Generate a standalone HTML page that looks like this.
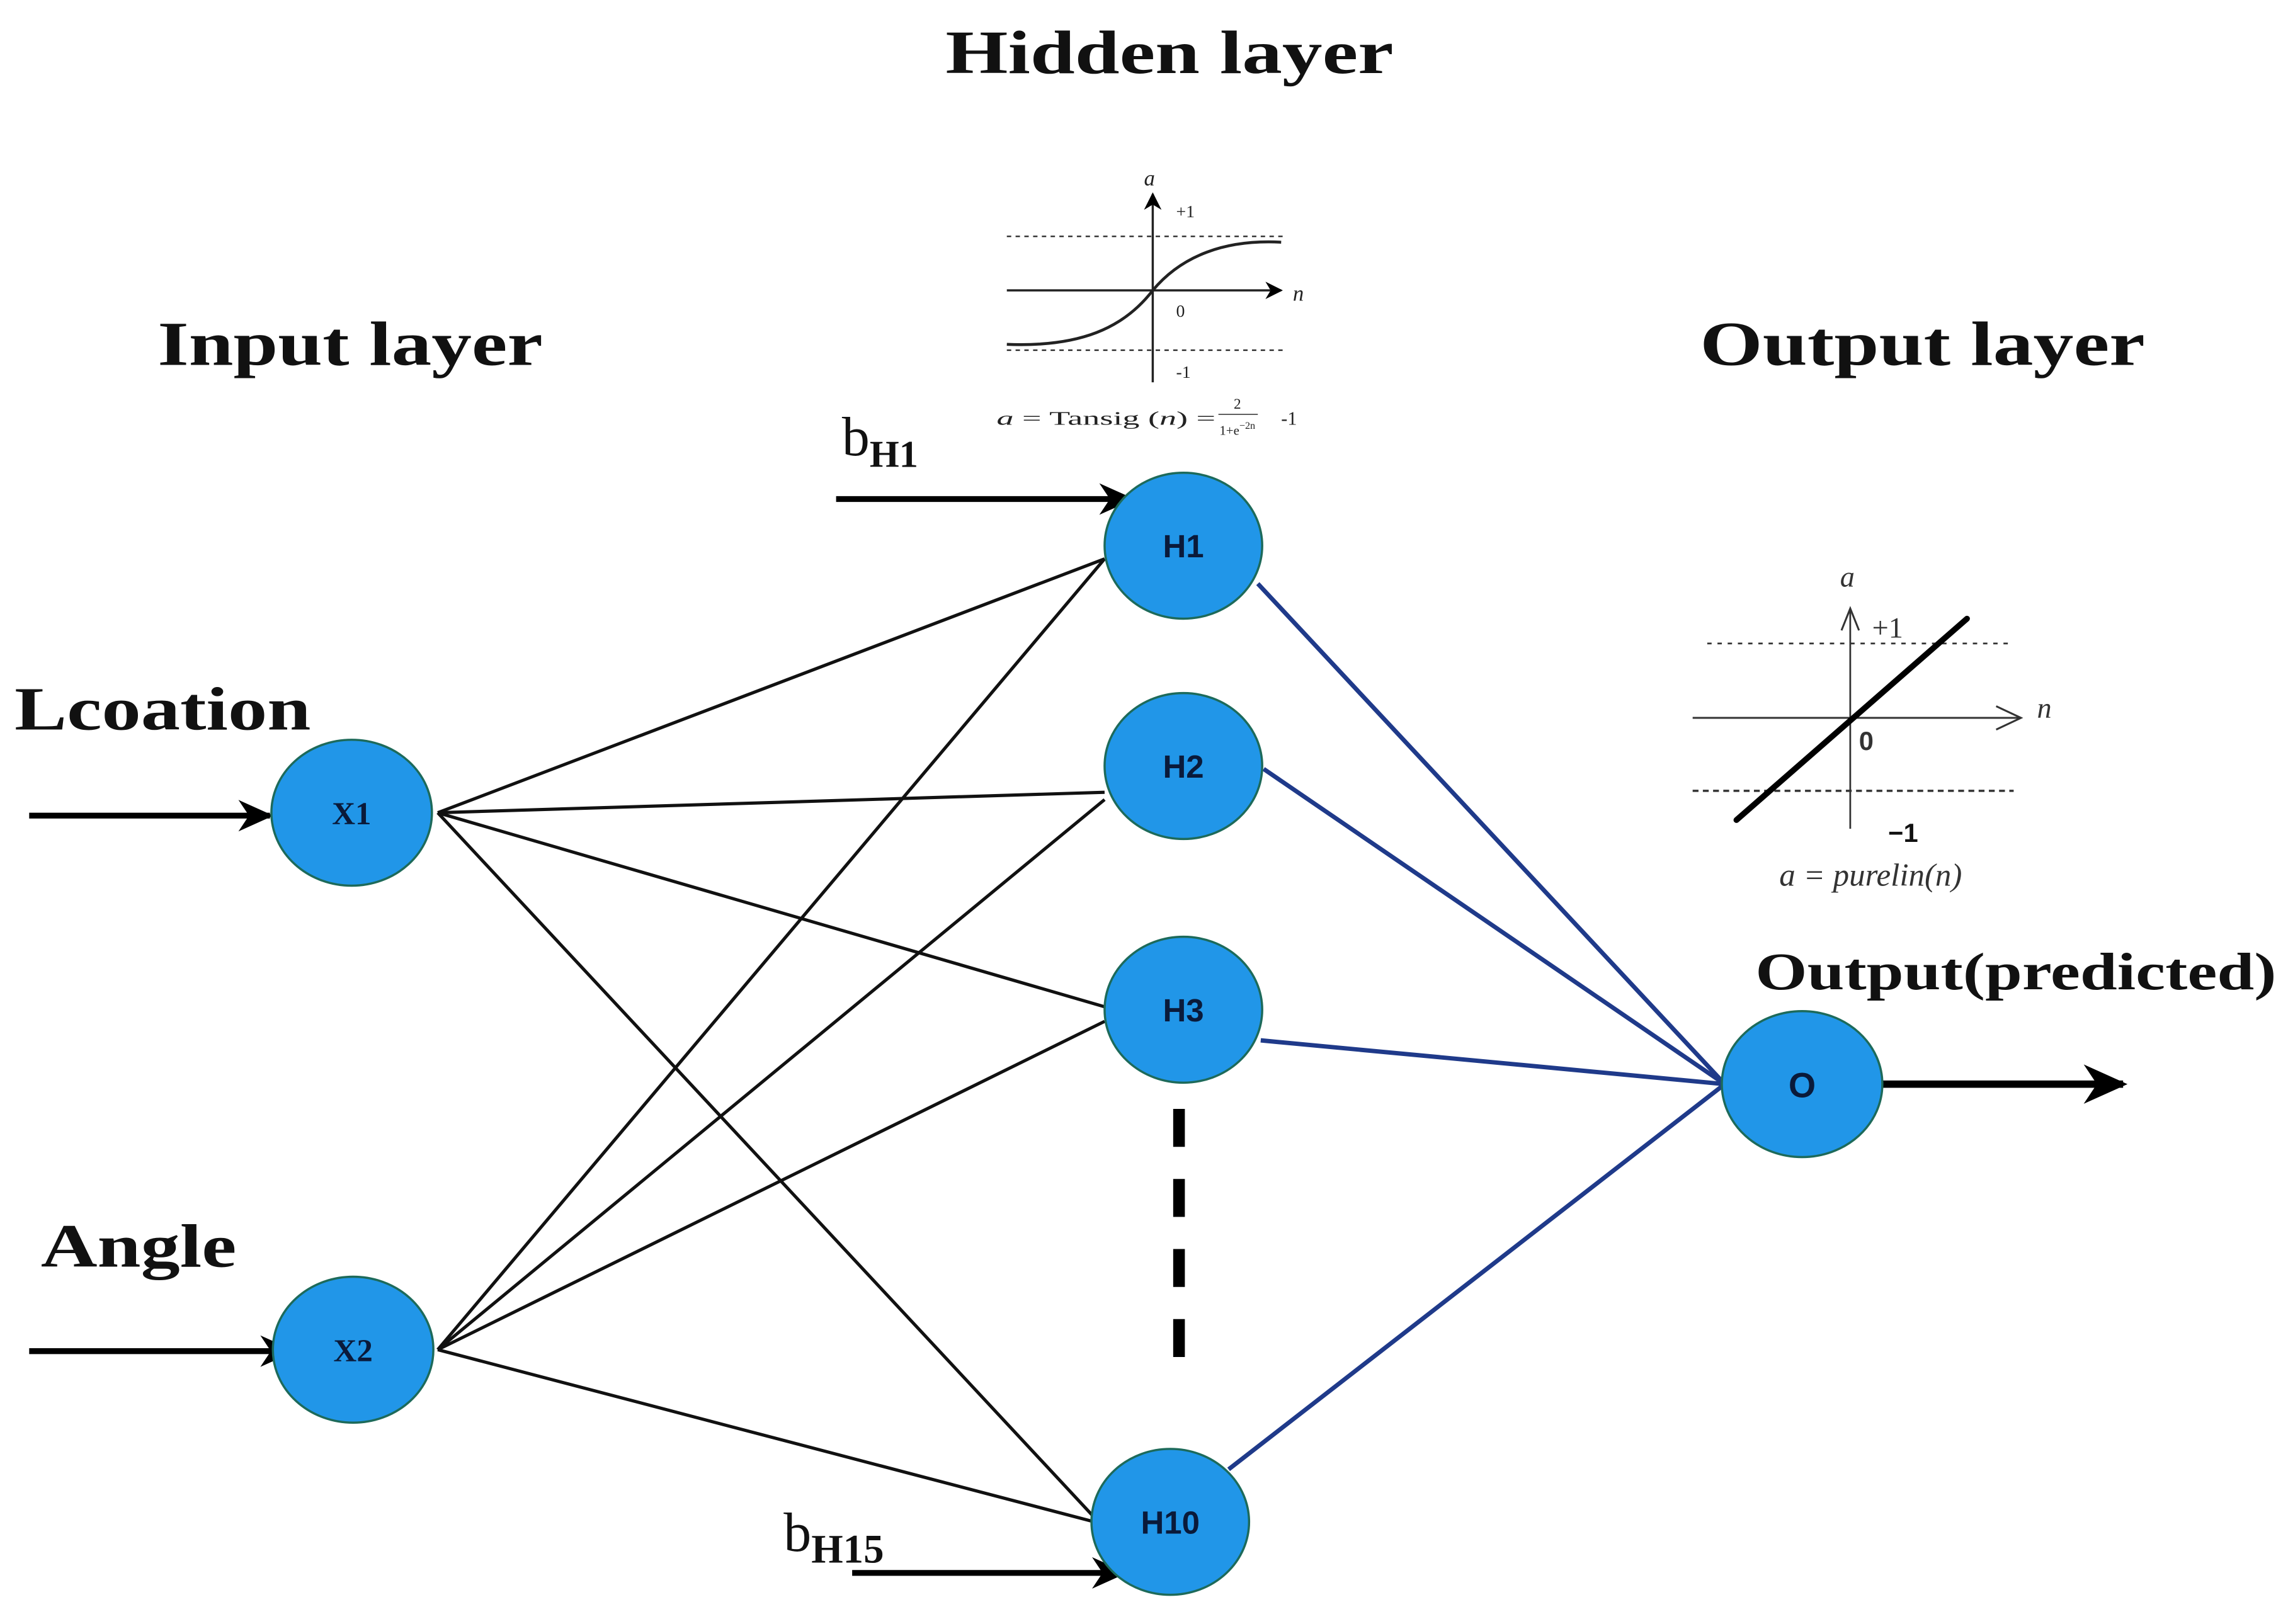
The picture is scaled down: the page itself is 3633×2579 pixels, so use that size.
<!DOCTYPE html>
<html><head><meta charset="utf-8"><style>
html,body{margin:0;padding:0;background:#fff;}
svg{display:block;}
</style></head><body>
<svg width="3633" height="2579" viewBox="0 0 1568 1113" preserveAspectRatio="none" xmlns="http://www.w3.org/2000/svg">
<defs>
<marker id="ah" viewBox="0 0 10 10" refX="9" refY="5" markerWidth="6" markerHeight="6" orient="auto" markerUnits="strokeWidth">
<path d="M0,0.5 L10,5 L0,9.5 L3,5 z" fill="#000"/></marker>
<marker id="ah2" viewBox="0 0 10 10" refX="9" refY="5" markerWidth="8" markerHeight="8" orient="auto" markerUnits="strokeWidth">
<path d="M0,0 L10,5 L0,10 L3,5 z" fill="#000"/></marker>
</defs>
<rect width="1568" height="1113" fill="#fff"/>
<g font-family="Liberation Serif, serif" font-weight="bold" fill="#111">
<text x="648" y="50" font-size="42" textLength="307" lengthAdjust="spacingAndGlyphs">Hidden layer</text>
<text x="108" y="250" font-size="43" textLength="264" lengthAdjust="spacingAndGlyphs">Input layer</text>
<text x="1165" y="250" font-size="43" textLength="305" lengthAdjust="spacingAndGlyphs">Output layer</text>
<text x="10" y="500" font-size="42" textLength="203" lengthAdjust="spacingAndGlyphs">Lcoation</text>
<text x="28" y="868" font-size="42" textLength="134" lengthAdjust="spacingAndGlyphs">Angle</text>
<text x="1203" y="678" font-size="36" textLength="357" lengthAdjust="spacingAndGlyphs">Output(predicted)</text>
</g>
<g font-family="Liberation Serif, serif" fill="#111">
<text x="577" y="312" font-size="38">b<tspan font-size="26" dy="8" font-weight="bold">H1</tspan></text>
<text x="537" y="1063" font-size="38">b<tspan font-size="28" dy="8" font-weight="bold">H15</tspan></text>
</g>
<g stroke="#111" stroke-width="2.2" fill="none">
<line x1="300" y1="557" x2="757" y2="383"/>
<line x1="300" y1="557" x2="757" y2="543"/>
<line x1="300" y1="557" x2="757" y2="690"/>
<line x1="300" y1="557" x2="750" y2="1040"/>
<line x1="300" y1="925" x2="757" y2="383"/>
<line x1="300" y1="925" x2="757" y2="548"/>
<line x1="300" y1="925" x2="757" y2="700"/>
<line x1="300" y1="925" x2="750" y2="1043"/>
</g>
<g stroke="#1f3a8a" stroke-width="3" fill="none">
<line x1="862" y1="400" x2="1182" y2="743"/>
<line x1="866" y1="527" x2="1182" y2="743"/>
<line x1="864" y1="713" x2="1182" y2="743"/>
<line x1="842" y1="1007" x2="1182" y2="743"/>
</g>
<g stroke="#000" stroke-width="4" fill="none">
<line x1="20" y1="559" x2="185" y2="559" marker-end="url(#ah)"/>
<line x1="20" y1="926" x2="200" y2="926" marker-end="url(#ah)"/>
<line x1="573" y1="342" x2="775" y2="342" marker-end="url(#ah)"/>
<line x1="584" y1="1078" x2="770" y2="1078" marker-end="url(#ah)"/>
<line x1="1290" y1="743" x2="1455" y2="743" stroke-width="5" marker-end="url(#ah)"/>
</g>
<line x1="808" y1="760" x2="808" y2="930" stroke="#000" stroke-width="8" stroke-dasharray="26,22"/>
<g fill="#2196e8" stroke="#1d6a5a" stroke-width="1.5">
<ellipse cx="241" cy="557" rx="55" ry="50"/>
<ellipse cx="242" cy="925" rx="55" ry="50"/>
<ellipse cx="811" cy="374" rx="54" ry="50"/>
<ellipse cx="811" cy="525" rx="54" ry="50"/>
<ellipse cx="811" cy="692" rx="54" ry="50"/>
<ellipse cx="802" cy="1043" rx="54" ry="50"/>
<ellipse cx="1235" cy="743" rx="55" ry="50"/>
</g>
<g font-family="Liberation Sans, sans-serif" font-weight="bold" fill="#0a1a3a" font-size="22" text-anchor="middle">
<text x="241" y="565" font-family="Liberation Serif, serif">X1</text>
<text x="242" y="933" font-family="Liberation Serif, serif">X2</text>
<text x="811" y="382">H1</text>
<text x="811" y="533">H2</text>
<text x="811" y="700">H3</text>
<text x="802" y="1051">H10</text>
<text x="1235" y="752" font-size="24">O</text>
</g>
<g stroke="#222" fill="none">
<line x1="690" y1="162" x2="880" y2="162" stroke-width="1" stroke-dasharray="3,3"/>
<line x1="690" y1="240" x2="880" y2="240" stroke-width="1" stroke-dasharray="3,3"/>
<line x1="790" y1="262" x2="790" y2="133" stroke-width="1.5" marker-end="url(#ah2)"/>
<line x1="690" y1="199" x2="878" y2="199" stroke-width="1.5" marker-end="url(#ah2)"/>
<path d="M690,236 C740,238 770,225 790,199 C810,175 840,164 878,166" stroke-width="2"/>
</g>
<g font-family="Liberation Serif, serif" fill="#222" font-size="12">
<text x="784" y="127" font-style="italic" font-size="15">a</text>
<text x="806" y="149">+1</text>
<text x="806" y="217">0</text>
<text x="806" y="259">-1</text>
<text x="886" y="206" font-style="italic" font-size="15">n</text>
<text x="683" y="291" font-size="13" textLength="150" lengthAdjust="spacingAndGlyphs"><tspan font-style="italic">a</tspan> = Tansig (<tspan font-style="italic">n</tspan>) =</text>
<text x="848" y="280" font-size="10" text-anchor="middle">2</text>
<line x1="835" y1="284" x2="862" y2="284" stroke="#555" stroke-width="0.8"/>
<text x="848" y="298" font-size="9" text-anchor="middle">1+e<tspan dy="-4" font-size="7">−2n</tspan></text>
<text x="878" y="291" font-size="13">-1</text>
</g>
<g stroke="#333" fill="none">
<line x1="1170" y1="441" x2="1380" y2="441" stroke-width="1.2" stroke-dasharray="3,4"/>
<line x1="1160" y1="542" x2="1380" y2="542" stroke-width="1.5" stroke-dasharray="4,3"/>
<line x1="1268" y1="568" x2="1268" y2="418" stroke-width="1.2"/>
<path d="M1262,432 L1268,417 L1274,432" stroke-width="1.3"/>
<line x1="1160" y1="492" x2="1385" y2="492" stroke-width="1.3"/>
<path d="M1368,484 L1385,492 L1368,500" stroke-width="1.3"/>
<line x1="1190" y1="562" x2="1348" y2="424" stroke="#000" stroke-width="4" stroke-linecap="round"/>
</g>
<g font-family="Liberation Serif, serif" fill="#333">
<text x="1261" y="402" font-style="italic" font-size="20">a</text>
<text x="1283" y="437" font-size="20">+1</text>
<text x="1274" y="514" font-size="18" font-family="Liberation Sans, sans-serif" font-weight="bold">0</text>
<text x="1294" y="577" font-size="18" font-family="Liberation Sans, sans-serif" font-weight="bold" fill="#111">−1</text>
<text x="1396" y="492" font-style="italic" font-size="20">n</text>
<text x="1282" y="607" font-style="italic" font-size="22" text-anchor="middle">a = purelin(n)</text>
</g>
</svg>
</body></html>
